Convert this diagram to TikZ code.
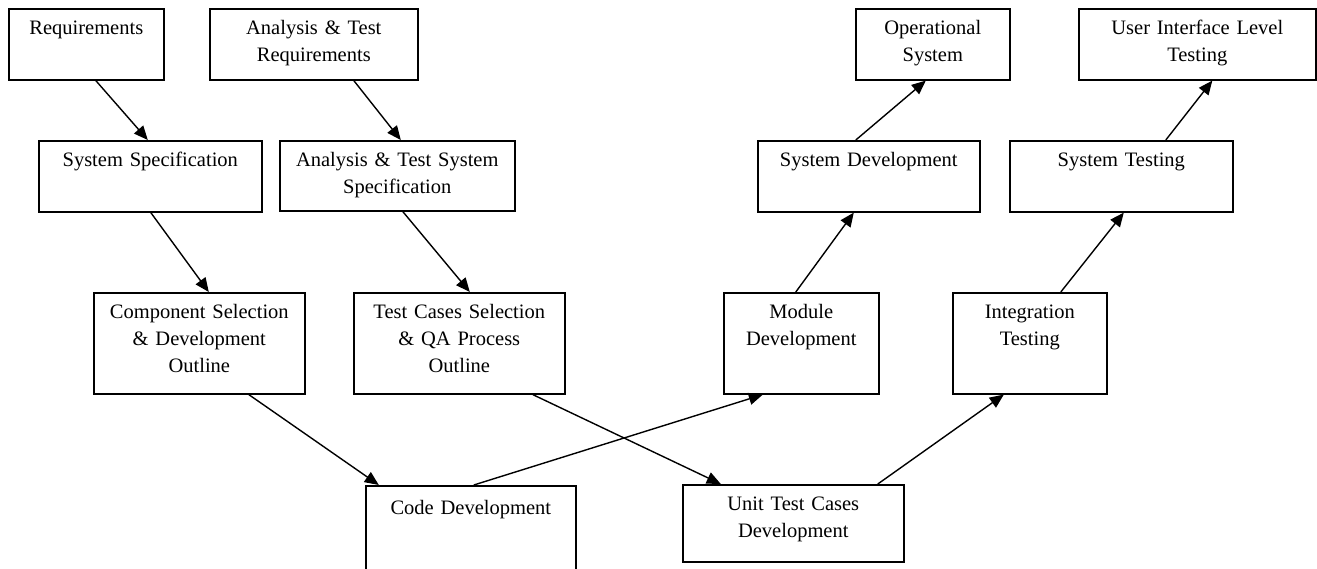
\documentclass[tikz,border=0pt]{standalone}
\usepackage{fontspec}
\setmainfont{Liberation Serif}
\usetikzlibrary{arrows.meta}

\begin{document}
\begin{tikzpicture}[x=1pt, y=-1pt,
    box/.style={draw, line width=1.6pt, anchor=north west, align=center,
        inner xsep=0pt, inner ysep=0pt, text height=26pt,
        font=\fontsize{20.5}{27}\selectfont},
    flow/.style={line width=1.4pt, -{Triangle[length=14pt, width=12pt]}}]

    % Page frame
    \clip (0,0) rectangle (1317,569);
    \fill[white] (0,0) rectangle (1317,569);

    % Top row
    \node[box, text width=155pt, text depth=45pt] (req) at (8,8) {Requirements};
    \node[box, text width=208pt, text depth=45pt] (atreq) at (209,8) {Analysis \& Test\\Requirements};
    \node[box, text width=154pt, text depth=45pt] (opsys) at (855,8) {Operational\\System};
    \node[box, text width=237pt, text depth=45pt] (uitest) at (1078,8) {User Interface Level\\Testing};

    % Second row
    \node[box, text width=223pt, text depth=45pt] (sysspec) at (38,140) {System Specification};
    \node[box, text width=235pt, text depth=44pt] (atsysspec) at (279,140) {Analysis \& Test System\\Specification};
    \node[box, text width=222pt, text depth=45pt] (sysdev) at (757,140) {System Development};
    \node[box, text width=223pt, text depth=45pt] (systest) at (1009,140) {System Testing};

    % Third row
    \node[box, text width=211pt, text depth=75pt] (compsel) at (93,292) {Component Selection\\\& Development\\Outline};
    \node[box, text width=211pt, text depth=75pt] (tcsel) at (353,292) {Test Cases Selection\\\& QA Process\\Outline};
    \node[box, text width=155pt, text depth=75pt] (moddev) at (723,292) {Module\\Development};
    \node[box, text width=154pt, text depth=75pt] (integ) at (952,292) {Integration\\Testing};

    % Bottom row
    \node[box, text width=210pt, text height=29pt, text depth=91pt] (codedev) at (365,485) {Code Development};
    \node[box, text width=221pt, text depth=51pt] (utcdev) at (682,484) {Unit Test Cases\\Development};

    % Drawing the arrows
    \draw[flow] ([xshift=9.5pt]req.south) -- ([xshift=-2.5pt]sysspec.north);
    \draw[flow] ([xshift=0.5pt]sysspec.south) -- ([xshift=9.5pt]compsel.north);
    \draw[flow] ([xshift=40pt]atreq.south) -- ([xshift=3.5pt]atsysspec.north);
    \draw[flow] ([xshift=5.5pt]atsysspec.south) -- ([xshift=10.5pt]tcsel.north);
    \draw[flow] ([xshift=49.5pt]compsel.south) -- ([xshift=-92pt]codedev.north);
    \draw[flow] ([xshift=73.5pt]tcsel.south) -- ([xshift=-72.5pt]utcdev.north);
    \draw[flow] ([xshift=3pt]codedev.north) -- ([xshift=-38.5pt]moddev.south);
    \draw[flow] ([xshift=84.5pt]utcdev.north) -- ([xshift=-26pt]integ.south);
    \draw[flow] ([xshift=-5.5pt]moddev.north) -- ([xshift=-15pt]sysdev.south);
    \draw[flow] ([xshift=31pt]integ.north) -- ([xshift=2.5pt]systest.south);
    \draw[flow] ([xshift=-13pt]sysdev.north) -- ([xshift=-7pt]opsys.south);
    \draw[flow] ([xshift=44.5pt]systest.north) -- ([xshift=15pt]uitest.south);
\end{tikzpicture}
\end{document}
